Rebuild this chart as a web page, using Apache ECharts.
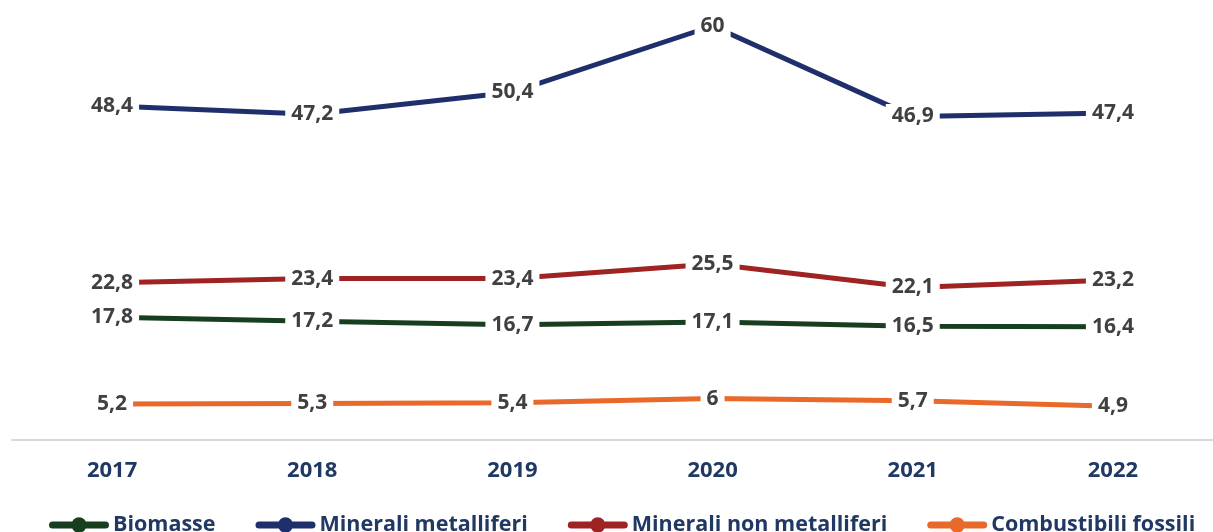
<!DOCTYPE html>
<html>
<head>
<meta charset="utf-8">
<script src="https://cdn.jsdelivr.net/npm/echarts@6/dist/echarts.min.js"></script>
<style>
  html, body { margin: 0; padding: 0; background: #fff; }
  #chart { width: 1213px; height: 532px; }
</style>
</head>
<body>
<div id="chart"></div>
<script>
// Years on the category axis
const years = ['2017', '2018', '2019', '2020', '2021', '2022'];

// Series values
const biomasse = [17.8, 17.2, 16.7, 17.1, 16.5, 16.4];
const mineraliMetalliferi = [48.4, 47.2, 50.4, 60, 46.9, 47.4];
const mineraliNonMetalliferi = [22.8, 23.4, 23.4, 25.5, 22.1, 23.2];
const combustibiliFossili = [5.2, 5.3, 5.4, 6, 5.7, 4.9];

const FONT = '"Open Sans", "Liberation Sans", sans-serif';

// Legend marker: thick rounded bar with a dot in the middle
const LEGEND_ICON = 'path://M4,4.5 H56 A3.5,3.5 0 0,1 56,11.5 H4 A3.5,3.5 0 0,1 4,4.5 Z ' +
  'M30,0.5 A7.5,7.5 0 1,1 30,15.5 A7.5,7.5 0 1,1 30,0.5 Z';

function lineSeries(name, data, color) {
  return {
    name: name,
    type: 'line',
    data: data,
    symbol: 'circle',
    symbolSize: 10,
    lineStyle: { width: 5, color: color },
    itemStyle: { color: color },
    label: {
      show: true,
      position: 'inside',
      formatter: p => String(p.value).replace('.', ','),
      color: '#404040',
      fontFamily: FONT,
      fontWeight: 'bold',
      fontSize: 21,
      backgroundColor: '#ffffff',
      padding: [2, 6]
    },
    emphasis: { disabled: true },
    animation: false
  };
}

const chart = echarts.init(document.getElementById('chart'));
chart.setOption({
  backgroundColor: '#ffffff',
  grid: { left: 12, width: 1212, top: 26, bottom: 92, containLabel: false },
  xAxis: {
    type: 'category',
    data: years,
    boundaryGap: true,
    axisLine: { show: true, lineStyle: { color: '#d9d9d9', width: 2 } },
    axisTick: { show: false },
    axisLabel: {
      color: '#1f3864',
      fontFamily: FONT,
      fontWeight: 'bold',
      fontSize: 22,
      margin: 20
    }
  },
  yAxis: {
    type: 'value',
    min: 0,
    max: 60,
    show: false,
    splitLine: { show: false }
  },
  legend: {
    bottom: -9,
    left: 44,
    icon: LEGEND_ICON,
    itemWidth: 60,
    itemHeight: 16,
    itemGap: 40,
    textStyle: {
      color: '#1f3864',
      fontFamily: FONT,
      fontWeight: 'bold',
      fontSize: 21.5,
      padding: [0, 0, 0, -1]
    },
    data: ['Biomasse', 'Minerali metalliferi', 'Minerali non metalliferi', 'Combustibili fossili']
  },
  series: [
    lineSeries('Biomasse', biomasse, '#173f1f'),
    lineSeries('Minerali metalliferi', mineraliMetalliferi, '#1f2f6b'),
    lineSeries('Minerali non metalliferi', mineraliNonMetalliferi, '#a02323'),
    lineSeries('Combustibili fossili', combustibiliFossili, '#e8692a')
  ]
});
</script>
</body>
</html>
